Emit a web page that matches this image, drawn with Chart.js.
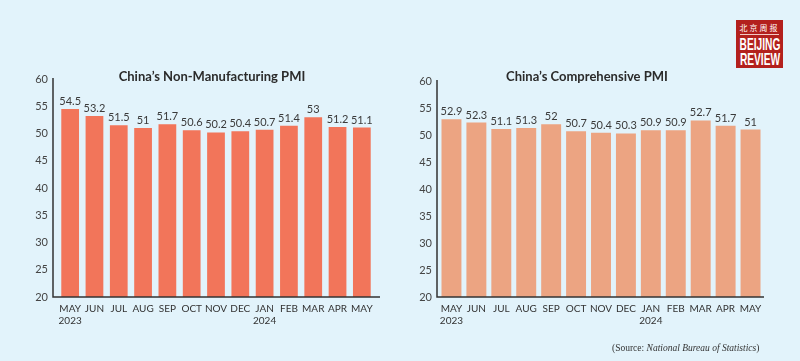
<!DOCTYPE html>
<html>
<head>
<meta charset="utf-8">
<script src="https://cdn.jsdelivr.net/npm/chart.js@4.4.1/dist/chart.umd.min.js"></script>
<style>
  html, body { margin: 0; padding: 0; }
  body { width: 800px; height: 361px; background: #e2f3fb; position: relative; overflow: hidden; font-family: Lato, "Open Sans", sans-serif; }
  canvas { position: absolute; top: 0; }
  #leftChart { left: 0; }
  #rightChart { left: 400px; }
  .title { position: absolute; top: 68px; font-weight: bold; font-size: 13px; line-height: 16px; color: #2b2b2b; white-space: nowrap; transform: translateX(-50%); }
  #source { position: absolute; left: 612px; top: 343px; font-family: "Liberation Serif", "DejaVu Serif", serif; font-size: 9.5px; color: #333; white-space: nowrap; }
  #logo { position: absolute; left: 736px; top: 20px; width: 47px; height: 48px; background: #b3201d; color: #fff; text-align: center; overflow: hidden; }
  #logo .cn { font-family: "Noto Sans CJK SC", sans-serif; font-size: 8px; line-height: 10px; margin-top: 3px; letter-spacing: 2px; }
  #logo .rule { height: 1px; background: #f3c9c4; margin: 1px 4px 2px 4px; }
  #logo .en { font-family: "Liberation Sans Narrow", "Liberation Sans", sans-serif; font-weight: bold; font-size: 17px; line-height: 15px; display: block; width: 80px; margin-left: -16.5px; text-align: center; transform: scaleX(0.6); transform-origin: center; white-space: nowrap; }
</style>
</head>
<body>
<canvas id="leftChart" width="400" height="361"></canvas>
<canvas id="rightChart" width="400" height="361"></canvas>
<div class="title" style="left:212px">China’s Non-Manufacturing PMI</div>
<div class="title" style="left:587px">China’s Comprehensive PMI</div>
<div id="source">(Source: <i>National Bureau of Statistics</i>)</div>
<div id="logo">
  <div class="cn">北京周报</div>
  <div class="rule"></div>
  <span class="en">BEIJING</span>
  <span class="en">REVIEW</span>
</div>
<script>
// Chart data
const months = [['MAY', '2023'], 'JUN', 'JUL', 'AUG', 'SEP', 'OCT', 'NOV', 'DEC', ['JAN', '2024'], 'FEB', 'MAR', 'APR', 'MAY'];
const nonManufacturing = [54.5, 53.2, 51.5, 51, 51.7, 50.6, 50.2, 50.4, 50.7, 51.4, 53, 51.2, 51.1];
const comprehensive = [52.9, 52.3, 51.1, 51.3, 52, 50.7, 50.4, 50.3, 50.9, 50.9, 52.7, 51.7, 51];
const yMin = 20;
const yMax = 60;
const yStep = 5;

// Value labels above each bar
const barLabels = {
    id: 'barLabels',
    afterDatasetsDraw(chart) {
        const ctx = chart.ctx;
        const meta = chart.getDatasetMeta(0);
        const values = chart.data.datasets[0].data;
        ctx.save();
        ctx.font = '11px Lato, "Open Sans", sans-serif';
        ctx.fillStyle = '#3a3a3a';
        ctx.textAlign = 'center';
        ctx.textBaseline = 'bottom';
        meta.data.forEach((bar, i) => {
            ctx.fillText(String(values[i]), bar.x, bar.y - 2);
        });
        ctx.restore();
    }
};

// Axis lines that reach a little past the category band
const axisLines = {
    id: 'axisLines',
    afterDatasetsDraw(chart, args, opts) {
        const { ctx, chartArea } = chart;
        const x0 = chartArea.left - opts.extendLeft;
        ctx.save();
        ctx.strokeStyle = '#333';
        ctx.lineWidth = 1.5;
        ctx.beginPath();
        ctx.moveTo(x0, chartArea.top - 1);
        ctx.lineTo(x0, chartArea.bottom);
        ctx.lineTo(chartArea.right + opts.extendRight, chartArea.bottom);
        ctx.stroke();
        ctx.restore();
    }
};

function makeChart(id, values, color, area) {
    return new Chart(document.getElementById(id), {
        type: 'bar',
        data: {
            labels: months,
            datasets: [{
                data: values,
                backgroundColor: color,
                borderWidth: 0,
                categoryPercentage: 1,
                barPercentage: area.barPct
            }]
        },
        options: {
            responsive: false,
            animation: false,
            devicePixelRatio: 1,
            layout: { padding: { top: area.top, right: area.right, bottom: 0, left: 0 } },
            plugins: {
                legend: { display: false },
                tooltip: { enabled: false },
                axisLines: { extendLeft: area.extendLeft, extendRight: area.extendRight }
            },
            scales: {
                x: {
                    grid: { display: false, drawTicks: false },
                    border: { display: false },
                    ticks: {
                        color: '#333',
                        font: { family: 'Lato, "Open Sans", sans-serif', size: 10 },
                        padding: 6,
                        maxRotation: 0,
                        autoSkip: false
                    },
                    afterFit: s => { s.height = 361 - 297; }
                },
                y: {
                    min: yMin,
                    max: yMax,
                    grid: { display: false, drawTicks: false },
                    border: { display: false },
                    ticks: {
                        stepSize: yStep,
                        color: '#444',
                        font: { family: 'Lato, "Open Sans", sans-serif', size: 11 },
                        padding: area.tickPad
                    },
                    afterFit: s => { s.width = area.left; }
                }
            }
        },
        plugins: [barLabels, axisLines]
    });
}

makeChart('leftChart', nonManufacturing, '#f2755a',
    { left: 58, right: 26, top: 79, tickPad: 10, barPct: 0.73, extendLeft: 5, extendRight: 6 });
makeChart('rightChart', comprehensive, '#eca482',
    { left: 39, right: 37, top: 81, tickPad: 7, barPct: 0.8, extendLeft: 2, extendRight: 1 });
</script>
</body>
</html>
